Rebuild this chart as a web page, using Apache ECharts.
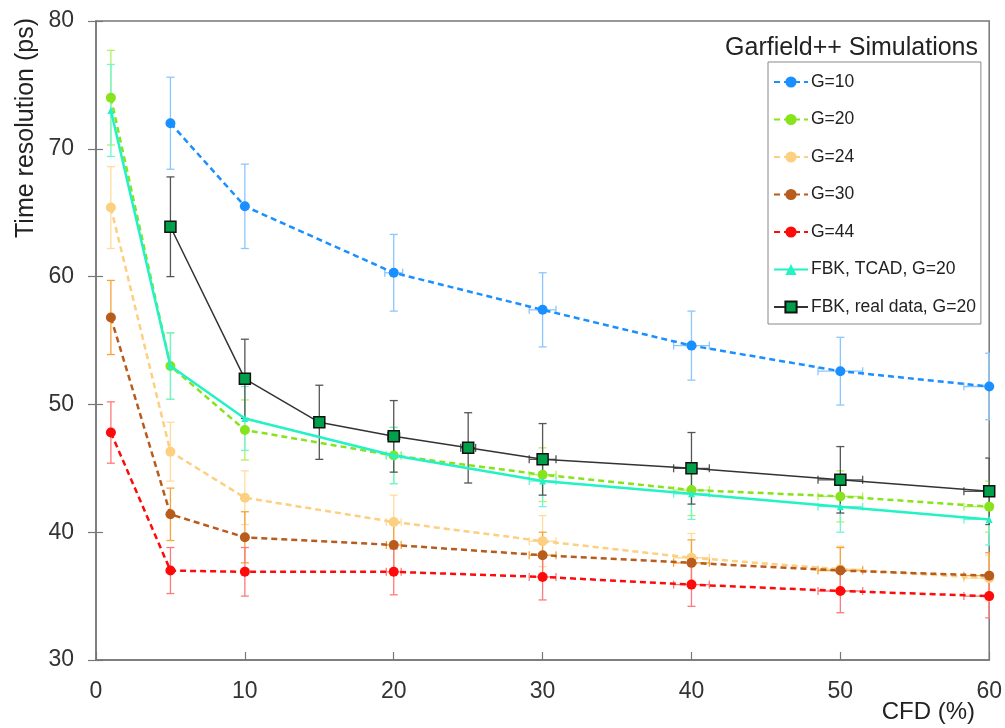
<!DOCTYPE html>
<html>
<head>
<meta charset="utf-8">
<script src="https://cdn.jsdelivr.net/npm/echarts@6/dist/echarts.min.js"></script>
<style>
html,body{margin:0;padding:0;background:#fff;}
#chart{width:1005px;height:728px;}
</style>
</head>
<body>
<div id="chart"></div>
<script>
// ---- data ----
const cfdSim  = [1, 5, 10, 20, 30, 40, 50, 60];
const cfdG10  = [5, 10, 20, 30, 40, 50, 60];
const cfdReal = [5, 10, 15, 20, 25, 30, 40, 50, 60];

const g10     = [72.0, 65.5, 60.3, 57.4, 54.6, 52.6, 51.4];
const g10Err  = [3.6, 3.3, 3.0, 2.9, 2.7, 2.65, 2.6];
const g10XErr = [0, 0, 0.6, 0.9, 1.2, 1.5, 1.7];

const g20     = [74.0, 53.0, 48.0, 46.0, 44.5, 43.3, 42.8, 42.0];
const g20Err  = [3.7, 2.6, 2.35, 2.2, 2.1, 2.0, 2.0, 2.0];

const g24     = [65.4, 46.3, 42.7, 40.8, 39.3, 38.0, 37.1, 36.4];
const g24Err  = [3.2, 2.3, 2.1, 2.1, 2.0, 1.9, 1.8, 1.8];

const g30     = [56.8, 41.4, 39.6, 39.0, 38.2, 37.6, 37.0, 36.6];
const g30Err  = [2.9, 2.05, 2.0, 1.9, 1.8, 1.8, 1.8, 1.8];

const g44     = [47.8, 37.0, 36.9, 36.9, 36.5, 35.9, 35.4, 35.0];
const g44Err  = [2.4, 1.8, 1.9, 1.8, 1.8, 1.7, 1.7, 1.7];

const simXErr = [0, 0, 0, 0.5, 0.9, 1.2, 1.5, 1.7];

const tcad    = [73.0, 53.0, 48.9, 46.0, 44.0, 43.0, 42.0, 41.0];
const tcadErr = [3.6, 2.6, 2.5, 2.2, 2.0, 2.0, 2.0, 2.0];

const real     = [63.9, 52.0, 48.6, 47.5, 46.6, 45.7, 45.0, 44.1, 43.2];
const realErr  = [3.9, 3.1, 2.9, 2.8, 2.75, 2.8, 2.8, 2.6, 2.6];
const realXErr = [0, 0, 0.3, 0.4, 0.5, 0.9, 1.2, 1.5, 1.7];

const xTicks = [0, 10, 20, 30, 40, 50, 60];
const yTicks = [30, 40, 50, 60, 70, 80];

// ---- helpers ----
function pts(xs, ys) { return xs.map((x, i) => [x, ys[i]]); }
function errPts(xs, ys, e, xe) { return xs.map((x, i) => [x, ys[i], e[i], xe ? xe[i] : 0]); }

function errRender(color) {
  return function (params, api) {
    const x = api.value(0), y = api.value(1), e = api.value(2), xe = api.value(3);
    const c = api.coord([x, y]);
    const top = api.coord([x, y + e]);
    const bot = api.coord([x, y - e]);
    const cap = 4;
    const st = { stroke: color, lineWidth: 1.3 };
    const children = [
      { type: 'line', shape: { x1: c[0], y1: top[1], x2: c[0], y2: bot[1] }, style: st },
      { type: 'line', shape: { x1: c[0] - cap, y1: top[1], x2: c[0] + cap, y2: top[1] }, style: st },
      { type: 'line', shape: { x1: c[0] - cap, y1: bot[1], x2: c[0] + cap, y2: bot[1] }, style: st }
    ];
    if (xe > 0) {
      const l = api.coord([x - xe, y]);
      const r = api.coord([x + xe, y]);
      children.push(
        { type: 'line', shape: { x1: l[0], y1: c[1], x2: r[0], y2: c[1] }, style: st },
        { type: 'line', shape: { x1: l[0], y1: c[1] - cap, x2: l[0], y2: c[1] + cap }, style: st },
        { type: 'line', shape: { x1: r[0], y1: c[1] - cap, x2: r[0], y2: c[1] + cap }, style: st }
      );
    }
    return { type: 'group', children: children };
  };
}

function errSeries(name, data, color) {
  return {
    type: 'custom', name: name, data: data, clip: true, z: 1,
    renderItem: errRender(color),
    encode: { x: 0, y: 1 },
    silent: true
  };
}

const dash = [6, 4];
function simLine(name, data, color) {
  return {
    type: 'line', name: name, data: data, z: 3,
    symbol: 'circle', symbolSize: 10,
    itemStyle: { color: color },
    lineStyle: { color: color, width: 2.5, type: dash },
    animation: false
  };
}

const FONT = 'Liberation Sans';

const option = {
  animation: false,
  backgroundColor: '#fff',
  textStyle: { fontFamily: FONT },
  grid: { left: 96, top: 21, right: 14, bottom: 68, show: true, borderColor: '#777', borderWidth: 1.5, backgroundColor: 'transparent' },
  title: {
    text: 'Garfield++ Simulations',
    right: 22, top: 31,
    textStyle: { fontFamily: FONT, fontSize: 25, fontWeight: 'normal', color: '#222' }
  },
  legend: {
    orient: 'vertical',
    left: 768, top: 62,
    padding: [11, 5, 8, 5],
    itemGap: 19.5,
    itemWidth: 34, itemHeight: 14,
    borderColor: '#888', borderWidth: 1,
    backgroundColor: '#fff',
    textStyle: { fontFamily: FONT, fontSize: 17.5, color: '#222', padding: [0, 0, 0, -2] },
    data: ['G=10', 'G=20', 'G=24', 'G=30', 'G=44', 'FBK, TCAD, G=20', 'FBK, real data, G=20']
  },
  xAxis: {
    type: 'value', min: 0, max: 60, interval: 10,
    axisLine: { show: true, lineStyle: { color: '#777', width: 1.5 } },
    axisTick: { show: true, inside: true, length: 8, lineStyle: { color: '#777', width: 1.2 } },
    splitLine: { show: false },
    axisLabel: {
      margin: 20, fontSize: 23, color: '#333', fontFamily: FONT,
      formatter: v => (xTicks.indexOf(v) >= 0 ? String(v) : '')
    }
  },
  yAxis: [
    {
      type: 'value', min: 30, max: 80, interval: 10,
      axisLine: { show: true, lineStyle: { color: '#777', width: 1.5 } },
      axisTick: { show: true, inside: true, length: 7, lineStyle: { color: '#777', width: 1.2 } },
      splitLine: { show: false },
      axisLabel: {
        margin: 22, fontSize: 23, color: '#333', fontFamily: FONT,
        formatter: v => (yTicks.indexOf(v) >= 0 ? String(v) : '')
      }
    },
    {
      type: 'value', min: 30, max: 80, interval: 10, position: 'left',
      axisLine: { show: false },
      axisTick: { show: true, inside: false, length: 8, lineStyle: { color: '#777', width: 1.2 } },
      splitLine: { show: false },
      axisLabel: { show: false }
    }
  ],
  graphic: [
    {
      type: 'text', left: 14, top: 18, rotation: Math.PI / 2,
      style: { text: 'Time resolution (ps)', font: '25px "Liberation Sans"', fill: '#222' }
    },
    {
      type: 'text', right: 30, top: 700,
      style: { text: 'CFD (%)', font: '24px "Liberation Sans"', fill: '#222' }
    }
  ],
  series: [
    errSeries('G=10 err', errPts(cfdG10, g10, g10Err, g10XErr), '#8cc6ff'),
    errSeries('G=20 err', errPts(cfdSim, g20, g20Err, simXErr), '#b5f060'),
    errSeries('G=24 err', errPts(cfdSim, g24, g24Err, simXErr), '#ffdc9c'),
    errSeries('G=30 err', errPts(cfdSim, g30, g30Err, simXErr), '#f5a43a'),
    errSeries('G=44 err', errPts(cfdSim, g44, g44Err, simXErr), '#ff7a7a'),
    errSeries('TCAD err', errPts(cfdSim, tcad, tcadErr, simXErr), '#6ff5d5'),
    errSeries('Real err', errPts(cfdReal, real, realErr, realXErr), '#555555'),
    simLine('G=10', pts(cfdG10, g10), '#1a8fff'),
    simLine('G=20', pts(cfdSim, g20), '#86e31c'),
    simLine('G=24', pts(cfdSim, g24), '#fdcf80'),
    simLine('G=30', pts(cfdSim, g30), '#b85c1e'),
    simLine('G=44', pts(cfdSim, g44), '#ff0a0a'),
    {
      type: 'line', name: 'FBK, TCAD, G=20', data: pts(cfdSim, tcad), z: 4,
      symbol: 'triangle', symbolSize: 7,
      itemStyle: { color: '#22f2c4' },
      lineStyle: { color: '#22f2c4', width: 2.5, type: 'solid' }
    },
    {
      type: 'line', name: 'FBK, real data, G=20', data: pts(cfdReal, real), z: 5,
      symbol: 'rect', symbolSize: 11,
      itemStyle: { color: '#00a04a', borderColor: '#111', borderWidth: 1.5 },
      lineStyle: { color: '#333', width: 1.5, type: 'solid' }
    }
  ]
};

const chart = echarts.init(document.getElementById('chart'), null, { renderer: 'canvas' });
chart.setOption(option);
</script>
</body>
</html>
